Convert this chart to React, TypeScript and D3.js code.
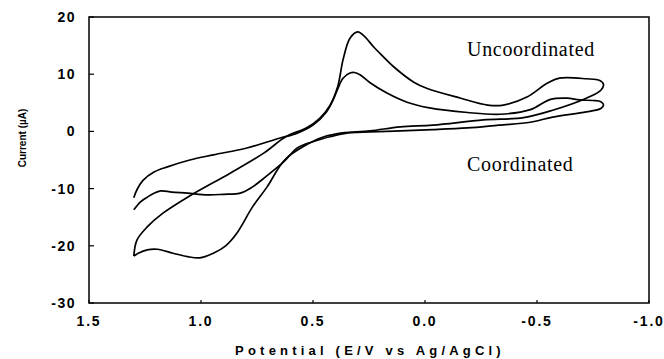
import React from "react";
import * as d3 from "d3";

// Uncoordinated: potential (V) and current (µA), one sweep loop
const uncoordPotential = [
  1.3, 1.286, 1.24, 1.17, 1.06, 0.87, 0.72, 0.62, 0.53, 0.47, 0.425, 0.39, 0.366, 0.335, 0.3, 0.27, 0.23, 0.2,
  0.14, 0.05, -0.01, -0.16, -0.28, -0.35, -0.455, -0.545, -0.6, -0.72, -0.78, -0.797, -0.785, -0.72, -0.57,
  -0.44, -0.26, -0.035, 0.11, 0.245, 0.39, 0.47, 0.545, 0.616, 0.65, 0.705, 0.77, 0.84, 0.89, 0.945, 1.005,
  1.06, 1.125, 1.195, 1.24, 1.28, 1.3,
];
const uncoordCurrent = [
  -21.8, -19, -16.7, -14.3, -11.5, -7.3, -3.8, -0.9, 0.6, 2.3, 4.5, 7.8, 12.5, 16.3, 17.4, 16.6, 14.8, 13.6,
  11.3, 8.6, 7.5, 5.8, 4.6, 4.6, 6.0, 8.4, 9.3, 9.2, 8.9, 8.2, 7.2, 5.8, 3.7,
  2.4, 2.0, 1.1, 0.8, 0.1, -0.4, -1.2, -2.7, -4.6, -6.2, -9.7, -13.2, -17.8, -20.0, -21.3, -22.1,
  -21.9, -21.3, -20.6, -20.7, -21.3, -21.8,
];

// Coordinated: potential (V) and current (µA)
const coordPotential = [
  1.3, 1.286, 1.26, 1.21, 1.15, 1.05, 0.945, 0.795, 0.65, 0.57, 0.5, 0.44, 0.41, 0.39, 0.366, 0.335, 0.315,
  0.29, 0.245, 0.17, 0.08, -0.02, -0.19, -0.335, -0.47, -0.56, -0.635, -0.69, -0.75, -0.785, -0.797, -0.785,
  -0.72, -0.57, -0.47, -0.33, -0.19, -0.035, 0.11, 0.245, 0.35, 0.42, 0.5, 0.57, 0.63, 0.71, 0.77, 0.825,
  0.9, 0.97, 1.06, 1.13, 1.18, 1.21, 1.24, 1.27, 1.3,
];
const coordCurrent = [
  -11.6, -10.2, -8.6, -7.1, -6.2, -5.0, -4.1, -2.9, -1.2, -0.3, 1.1, 3.4, 5.5, 7.4, 9.3, 10.2, 10.3,
  9.9, 8.5, 6.7, 5.1, 4.1, 3.3, 3.0, 3.8, 5.6, 5.8, 5.5, 5.4, 5.2, 4.6, 4.0,
  3.4, 2.5, 1.6, 1.1, 0.6, 0.3, 0.1, -0.1, -0.3, -0.9, -1.8, -2.9, -5.3, -7.9, -9.7, -10.8,
  -11.0, -11.1, -10.8, -10.6, -10.4, -10.8, -11.5, -12.3, -13.7,
];

const xTicks = [1.5, 1.0, 0.5, 0.0, -0.5, -1.0];
const xTickLabels = ["1.5", "1.0", "0.5", "0.0", "-0.5", "-1.0"];
const yTicks = [20, 10, 0, -10, -20, -30];
const yTickLabels = ["20", "10", "0", "-10", "-20", "-30"];

const W = 664;
const H = 359;
const left = 89;
const right = 649;
const top = 17;
const bottom = 303;

export default function App() {
  const x = d3.scaleLinear().domain([1.5, -1.0]).range([left, right]);
  const y = d3.scaleLinear().domain([-30, 20]).range([bottom, top]);
  const line = d3
    .line<[number, number]>()
    .x((d) => x(d[0]))
    .y((d) => y(d[1]))
    .curve(d3.curveCatmullRom.alpha(0.5));
  const uData = uncoordPotential.map((p, i) => [p, uncoordCurrent[i]] as [number, number]);
  const cData = coordPotential.map((p, i) => [p, coordCurrent[i]] as [number, number]);
  const font = "Arial, 'Liberation Sans', sans-serif";
  return (
    <svg
      width={W}
      height={H}
      style={{ position: "absolute", left: 0, top: 0, background: "#fff" }}
    >
      <rect x={0} y={0} width={W} height={H} fill="#fff" />
      <path d={line(uData) || ""} fill="none" stroke="#000" strokeWidth={1.7} />
      <path d={line(cData) || ""} fill="none" stroke="#000" strokeWidth={1.7} />
      <rect x={left} y={top} width={right - left} height={bottom - top} fill="none" stroke="#000" strokeWidth={1.5} />
      {yTicks.map((t, i) => (
        <g key={"y" + t}>
          <line x1={left} x2={left + 5} y1={y(t)} y2={y(t)} stroke="#000" strokeWidth={1.2} />
          <text
            x={76}
            y={y(t)}
            dy="0.36em"
            textAnchor="end"
            fontFamily={font}
            fontWeight="bold"
            fontSize={14}
            letterSpacing={1.5}
            fill="#000"
          >
            {yTickLabels[i]}
          </text>
        </g>
      ))}
      {xTicks.map((t, i) => (
        <g key={"x" + t}>
          <line x1={x(t)} x2={x(t)} y1={bottom} y2={bottom - 3} stroke="#000" strokeWidth={1.2} />
          <text
            x={x(t)}
            y={326}
            textAnchor="middle"
            fontFamily={font}
            fontWeight="bold"
            fontSize={14}
            letterSpacing={1.8}
            fill="#000"
          >
            {xTickLabels[i]}
          </text>
        </g>
      ))}
      <text
        x={370}
        y={355}
        textAnchor="middle"
        fontFamily={font}
        fontWeight="bold"
        fontSize={13}
        letterSpacing={4.2}
        fill="#000"
      >
        Potential (E/V vs Ag/AgCl)
      </text>
      <text
        transform="translate(26,138) rotate(-90)"
        textAnchor="middle"
        fontFamily={font}
        fontWeight="bold"
        fontSize={10}
        fill="#000"
      >
        Current (µA)
      </text>
      <text x={467} y={56} fontFamily="'Liberation Serif', 'Times New Roman', serif" fontSize={20} letterSpacing={0.7} fill="#000">
        Uncoordinated
      </text>
      <text x={467} y={171} fontFamily="'Liberation Serif', 'Times New Roman', serif" fontSize={20} letterSpacing={0.7} fill="#000">
        Coordinated
      </text>
    </svg>
  );
}
